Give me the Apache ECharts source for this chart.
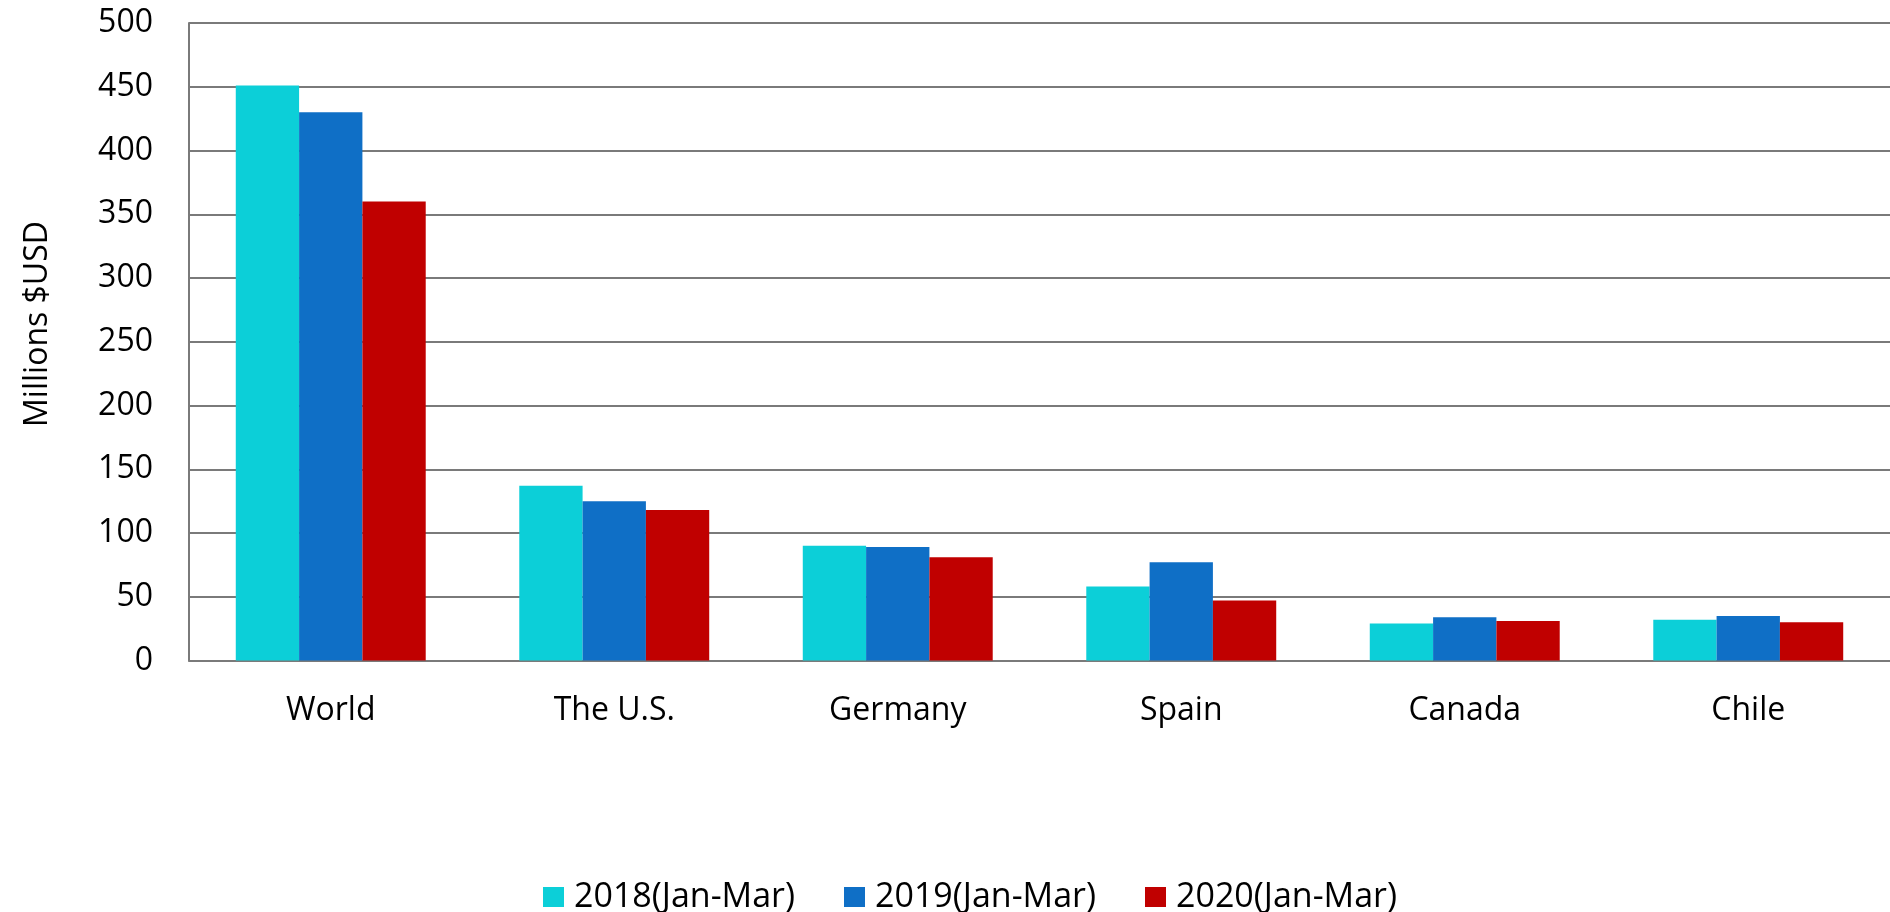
<!DOCTYPE html>
<html>
<head>
<meta charset="utf-8">
<script src="https://cdn.jsdelivr.net/npm/echarts@6/dist/echarts.min.js"></script>
<style>
  html, body { margin: 0; padding: 0; background: #fff; }
  #chart { width: 1890px; height: 912px; }
</style>
</head>
<body>
<div id="chart"></div>
<script>
  const countries = ['World', 'The U.S.', 'Germany', 'Spain', 'Canada', 'Chile']
  const seriesNames = ['2018(Jan-Mar)', '2019(Jan-Mar)', '2020(Jan-Mar)']
  const values2018 = [451, 137, 90, 58, 29, 32]
  const values2019 = [430, 125, 89, 77, 34, 35]
  const values2020 = [360, 118, 81, 47, 31, 30]
  const yTicks = { min: 0, max: 500, interval: 50 }

  const colors = ['#0ccfd8', '#0f6fc6', '#c00000']
  const font = 'Open Sans'
  const gridColor = '#7a7a7a'

  const dom = echarts.init(document.getElementById('chart'))
  const option = {
    backgroundColor: '#ffffff',
    animation: false,
    textStyle: { fontFamily: font },
    grid: {
      left: 189,
      right: 0,
      top: 23,
      bottom: 251.5
    },
    legend: {
      left: 538,
      top: 875,
      itemWidth: 21,
      itemHeight: 20,
      itemGap: 49,
      icon: 'rect',
      textStyle: {
        fontFamily: font,
        fontSize: 34,
        color: '#000',
        padding: [0, 0, 0, 5]
      },
      data: seriesNames
    },
    xAxis: {
      type: 'category',
      data: countries,
      axisLine: { lineStyle: { color: gridColor, width: 2 } },
      axisTick: { show: false },
      axisLabel: {
        fontFamily: font,
        fontSize: 32,
        color: '#000',
        margin: 34
      }
    },
    yAxis: {
      type: 'value',
      min: yTicks.min,
      max: yTicks.max,
      interval: yTicks.interval,
      axisLine: { show: true, lineStyle: { color: gridColor, width: 2 } },
      axisTick: { show: false },
      splitLine: { lineStyle: { color: gridColor, width: 2 } },
      axisLabel: {
        fontFamily: font,
        fontSize: 32,
        color: '#000',
        margin: 36
      }
    },
    graphic: [
      {
        type: 'text',
        x: 38,
        y: 324,
        rotation: Math.PI / 2,
        style: {
          text: 'Millions $USD',
          fontFamily: font,
          fontSize: 32,
          fill: '#000',
          align: 'center',
          verticalAlign: 'middle'
        }
      }
    ],
    series: [
      {
        name: seriesNames[0],
        type: 'bar',
        barGap: '0%',
        barCategoryGap: '33%',
        itemStyle: { color: colors[0] },
        data: values2018
      },
      {
        name: seriesNames[1],
        type: 'bar',
        barGap: '0%',
        barCategoryGap: '33%',
        itemStyle: { color: colors[1] },
        data: values2019
      },
      {
        name: seriesNames[2],
        type: 'bar',
        barGap: '0%',
        barCategoryGap: '33%',
        itemStyle: { color: colors[2] },
        data: values2020
      }
    ]
  }
  dom.setOption(option)
  window.addEventListener('resize', () => dom.resize())
</script>
</body>
</html>
